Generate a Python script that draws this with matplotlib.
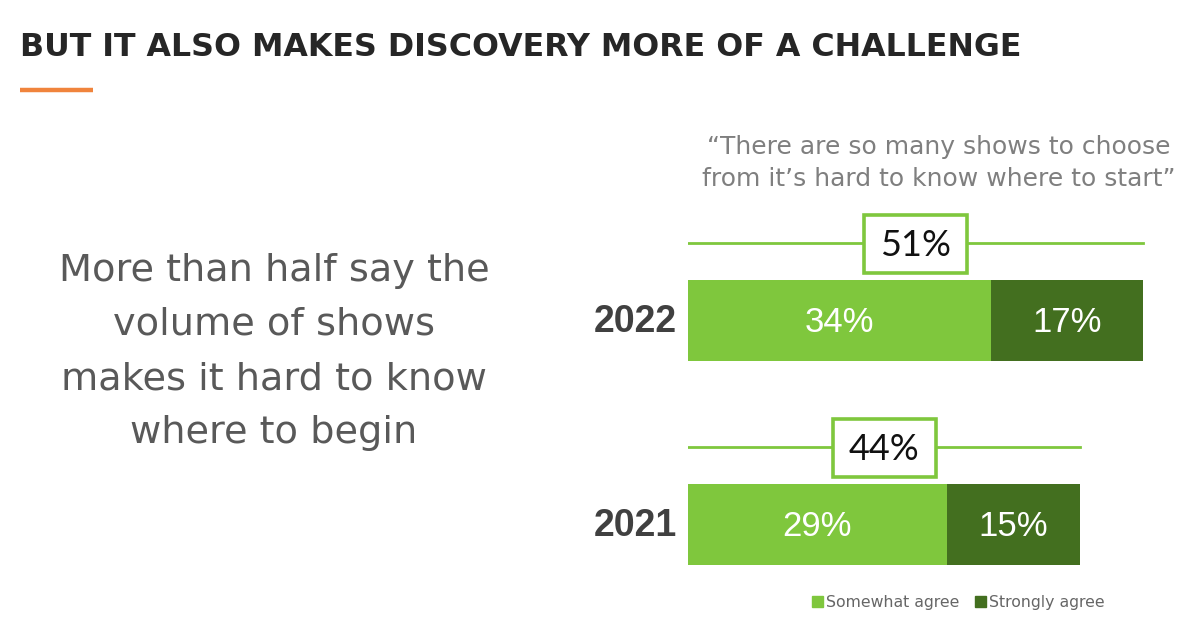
import matplotlib
matplotlib.use("Agg")
import matplotlib.pyplot as plt
from matplotlib.patches import Rectangle, Patch
from matplotlib.lines import Line2D

# ---- data ----
years = ["2022", "2021"]
somewhat = [34, 29]
strongly = [17, 15]
series_names = ["Somewhat agree", "Strongly agree"]
title = "BUT IT ALSO MAKES DISCOVERY MORE OF A CHALLENGE"
quote = "\u201cThere are so many shows to choose\nfrom it\u2019s hard to know where to start\u201d"
headline = "More than half say the\nvolume of shows\nmakes it hard to know\nwhere to begin"

LIGHT = "#7fc73d"
DARK = "#436f1f"
ORANGE = "#f0843c"

W, H = 1200, 625
fig = plt.figure(figsize=(12, 6.25), dpi=100)
fig.patch.set_facecolor("white")

# title and accent line
fig.text(20 / W, 1 - 47 / H, title, fontsize=22.8, fontweight="bold",
         color="#262626", family="DejaVu Sans", ha="left", va="center")
fig.add_artist(Line2D([20 / W, 93 / W], [1 - 90 / H, 1 - 90 / H],
                      color=ORANGE, lw=3.2, solid_capstyle="butt"))

# headline
fig.text(274 / W, 1 - 352 / H, headline, fontsize=27.5, color="#595959",
         family="DejaVu Sans", ha="center", va="center",
         multialignment="center", linespacing=1.65)

# quote
fig.text(939 / W, 1 - 163 / H, quote, fontsize=18, color="#7f7f7f",
         family="DejaVu Sans", ha="center", va="center",
         multialignment="center", linespacing=1.45)

# chart axes: x in percent, y in pixel rows
PX_PER_PCT = 8.92
ax = fig.add_axes([688 / W, 0, (W - 688) / W, 1])
ax.set_xlim(0, (W - 688) / PX_PER_PCT)
ax.set_ylim(H, 0)
ax.axis("off")

ycent = [320.5, 524.5]
bh = 81
totals = [a + b for a, b in zip(somewhat, strongly)]

ax.barh(ycent, somewhat, height=bh, color=LIGHT, label=series_names[0])
ax.barh(ycent, strongly, left=somewhat, height=bh, color=DARK,
        label=series_names[1])

for i, yc in enumerate(ycent):
    ax.text(somewhat[i] / 2, yc + 2, f"{somewhat[i]}%", color="white",
            fontsize=25, family="Liberation Sans", ha="center", va="center")
    ax.text(somewhat[i] + strongly[i] / 2, yc + 2, f"{strongly[i]}%",
            color="white", fontsize=25, family="Liberation Sans",
            ha="center", va="center")
    ax.text(-1.25, yc + 2, years[i], color="#404040", fontsize=27,
            fontweight="bold", family="Liberation Sans", ha="right",
            va="center", clip_on=False)
    # total bracket line and box
    yl = yc - bh / 2 - 37
    ax.plot([0, totals[i]], [yl, yl], color=LIGHT, lw=2, zorder=2)
    bw = 103 / PX_PER_PCT
    bhh = 58
    ax.add_patch(Rectangle((totals[i] / 2 - bw / 2, yl - bhh / 2 + 1), bw, bhh,
                           facecolor="white", edgecolor=LIGHT, lw=2.6,
                           zorder=3))
    ax.text(totals[i] / 2, yl + 3, f"{totals[i]}%", color="#111111",
            fontsize=26, family="Lato", ha="center", va="center", zorder=4)

handles = [Patch(color=LIGHT), Patch(color=DARK)]
leg = fig.legend(handles, series_names, loc="center",
                 bbox_to_anchor=(958 / W, 1 - 602 / H), ncol=2, frameon=False,
                 handlelength=0.7, handleheight=0.7,
                 handletextpad=0.2, columnspacing=1.0,
                 prop={"family": "DejaVu Sans", "size": 11.3})
for t in leg.get_texts():
    t.set_color("#666666")

fig.savefig("out.png", dpi=100, facecolor="white")
